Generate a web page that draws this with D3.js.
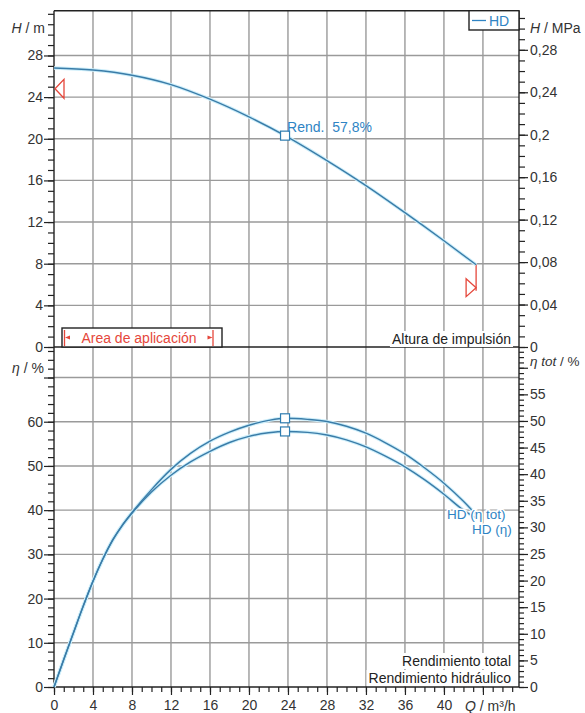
<!DOCTYPE html>
<html><head><meta charset="utf-8">
<script src="https://cdn.jsdelivr.net/npm/d3@7"></script>
<style>
html,body{margin:0;padding:0;background:#fff;}
svg{display:block;font-family:"Liberation Sans",Arial,sans-serif;}
</style></head>
<body>
<svg id="c" width="585" height="713"></svg>
<script>
// ---- data ----
const qH    = [0, 4, 8, 12, 16, 20, 23.7, 28, 32, 36, 40, 43.3];
const hVals = [26.8, 26.6, 26.1, 25.2, 23.8, 22.1, 20.3, 17.9, 15.5, 12.9, 10.2, 7.9];

const qEta   = [0, 1, 2, 3, 4, 5, 6, 7, 8, 10, 12, 14, 16, 18, 20, 22, 23.7, 26, 28, 30, 32, 34, 36, 38, 40, 42, 43.3];
const etaHyd = [0, 6.2, 12.3, 18.3, 23.9, 28.9, 33.1, 36.5, 39.3, 44.1, 47.9, 50.9, 53.3, 55.3, 56.7, 57.5, 57.8, 57.6, 57.0, 55.9, 54.3, 52.2, 49.8, 46.9, 43.6, 40.0, 38.2];
const etaTot = [0, 5.15, 10.2, 15.2, 19.9, 24.0, 27.6, 30.4, 32.8, 37.1, 40.9, 43.9, 46.2, 47.9, 49.2, 50.1, 50.5, 50.3, 49.9, 49.0, 47.7, 45.9, 43.8, 41.2, 38.3, 34.9, 32.4];

const bepQ = 23.7, bepH = 20.3, bepHyd = 57.8, bepTot = 50.5;
const minMarker = {q: 0, h: 24.8};
const maxMarker = {q: 43.3, h: 5.7};

const qTicks   = [0,4,8,12,16,20,24,28,32,36,40];
const hTicks   = [0,4,8,12,16,20,24,28];
const mpaTicks = [0,0.04,0.08,0.12,0.16,0.2,0.24,0.28];
const etaTicks = [0,10,20,30,40,50,60];
const totTicks = [0,5,10,15,20,25,30,35,40,45,50,55];

// ---- layout ----
const L = 54, R = 519, T = 10.7, MID = 347, B = 687;
const qMax = 47.7, hMax = 32.3, mpaMax = hMax * 0.00981, etaMax = 76.9, totMax = 63.9;

const x = d3.scaleLinear().domain([0, qMax]).range([L, R]);
const yH = d3.scaleLinear().domain([0, hMax]).range([MID, T]);
const yP = d3.scaleLinear().domain([0, mpaMax]).range([MID, T]);
const yE = d3.scaleLinear().domain([0, etaMax]).range([B, MID]);
const yT = d3.scaleLinear().domain([0, totMax]).range([B, MID]);

const svg = d3.select("#c");
const gridC = "#9a9a9a", axC = "#222", txtC = "#333", blue = "#3a7ca8", lblBlue = "#2f84c4", red = "#e5473b";
const FS = 14;

// grid
const g = svg.append("g");
d3.range(4, 45, 4).forEach(v => g.append("line").attr("x1", x(v)).attr("x2", x(v)).attr("y1", T).attr("y2", B).attr("stroke", gridC).attr("stroke-width", 1.4));
[4,8,12,16,20,24,28].forEach(v => g.append("line").attr("x1", L).attr("x2", R).attr("y1", yH(v)).attr("y2", yH(v)).attr("stroke", gridC).attr("stroke-width", 1.4));
[10,20,30,40,50,60,70].forEach(v => g.append("line").attr("x1", L).attr("x2", R).attr("y1", yE(v)).attr("y2", yE(v)).attr("stroke", gridC).attr("stroke-width", 1.4));

function fmtComma(v){ return String(+v.toFixed(2)).replace(".", ","); }

function styleAxis(sel){
  sel.select(".domain").remove();
  sel.selectAll("line").attr("stroke", axC).attr("stroke-width", 1.2);
  sel.selectAll("text").attr("fill", txtC).style("font-size", FS + "px").style("font-family", '"Liberation Sans",Arial,sans-serif');
}
function minor(axisFn, scale, vals, pos, size){
  const a = svg.append("g").attr("transform", pos).call(axisFn(scale).tickValues(vals).tickSize(size).tickFormat(""));
  a.select(".domain").remove();
  a.selectAll("line").attr("stroke", axC).attr("stroke-width", 1.2);
}
// left top
minor(d3.axisLeft, yH, d3.range(0, 32.01, 1), `translate(${L},0)`, 6);
styleAxis(svg.append("g").attr("transform", `translate(${L},0)`).call(d3.axisLeft(yH).tickValues(hTicks).tickSize(10).tickPadding(1).tickFormat(d3.format("d"))));
// right top
minor(d3.axisRight, yP, d3.range(0, 0.3101, 0.01), `translate(${R},0)`, 6);
styleAxis(svg.append("g").attr("transform", `translate(${R},0)`).call(d3.axisRight(yP).tickValues(mpaTicks).tickSize(9).tickPadding(2).tickFormat(fmtComma)));
// left bottom
minor(d3.axisLeft, yE, d3.range(0, 76.01, 2), `translate(${L},0)`, 6);
styleAxis(svg.append("g").attr("transform", `translate(${L},0)`).call(d3.axisLeft(yE).tickValues(etaTicks.concat([70])).tickSize(10).tickPadding(1).tickFormat(d => d === 70 ? "" : d)));
// right bottom
minor(d3.axisRight, yT, d3.range(0, 63.01, 1), `translate(${R},0)`, 5);
styleAxis(svg.append("g").attr("transform", `translate(${R},0)`).call(d3.axisRight(yT).tickValues(totTicks.concat([60])).tickSize(9).tickPadding(2).tickFormat(d => d === 60 ? "" : d)));
// bottom
minor(d3.axisBottom, x, d3.range(0, 47.01, 1), `translate(0,${B})`, 5);
styleAxis(svg.append("g").attr("transform", `translate(0,${B})`).call(d3.axisBottom(x).tickValues(qTicks.concat([44])).tickSize(8).tickPadding(5).tickFormat(d => d === 44 ? "" : d)));

// frame lines
const fr = svg.append("g").attr("stroke", axC).attr("stroke-width", 1.4);
fr.append("line").attr("x1", L).attr("x2", R).attr("y1", T).attr("y2", T);
fr.append("line").attr("x1", L).attr("x2", R).attr("y1", MID).attr("y2", MID);
fr.append("line").attr("x1", L).attr("x2", R).attr("y1", B).attr("y2", B);
fr.append("line").attr("x1", L).attr("x2", L).attr("y1", T).attr("y2", B);
fr.append("line").attr("x1", R).attr("x2", R).attr("y1", T).attr("y2", B);

// axis titles
function title(xp, yp, anchor, parts, fs){
  const t = svg.append("text").attr("x", xp).attr("y", yp).attr("text-anchor", anchor).attr("fill", txtC).style("font-size", (fs || FS) + "px");
  parts.forEach(p => t.append("tspan").style("font-style", p[1] ? "italic" : "normal").text(p[0]));
}
title(45, 33, "end", [["H", true], [" / m", false]]);
title(530, 33, "start", [["H", true], [" / MPa", false]]);
title(44, 373, "end", [["η", true], [" / %", false]]);
title(530, 366, "start", [["η tot", true], [" / %", false]], 13.5);
title(465, 711, "start", [["Q", true], [" / m³/h", false]]);

// white-background annotations
function boxedText(xr, yb, str, color){
  const t = svg.append("text").attr("x", xr).attr("y", yb).attr("text-anchor", "end").attr("fill", color).style("font-size", FS + "px").text(str);
  const bb = t.node().getBBox();
  svg.insert("rect", () => t.node()).attr("x", bb.x - 2).attr("y", bb.y).attr("width", bb.width + 4).attr("height", bb.height).attr("fill", "#fff");
  return t;
}
boxedText(511, 344, "Altura de impulsión", "#222");
boxedText(511, 666, "Rendimiento total", "#222");
boxedText(511, 683, "Rendimiento hidráulico", "#222");

// Application area box
const ab = svg.append("g");
ab.append("rect").attr("x", 62).attr("y", 328).attr("width", 160).attr("height", MID - 328).attr("fill", "#fff").attr("stroke", axC).attr("stroke-width", 1.4);
ab.append("line").attr("x1", 64.5).attr("x2", 64.5).attr("y1", 330).attr("y2", 346).attr("stroke", red).attr("stroke-width", 1.3);
ab.append("line").attr("x1", 213).attr("x2", 213).attr("y1", 330).attr("y2", 346).attr("stroke", red).attr("stroke-width", 1.3);
ab.append("path").attr("d", "M65,337.5 L70,335.5 L70,339.5 Z").attr("fill", red);
ab.append("path").attr("d", "M212.5,337.5 L207.5,335.5 L207.5,339.5 Z").attr("fill", red);
ab.append("text").attr("x", 139).attr("y", 343).attr("text-anchor", "middle").attr("fill", red).style("font-size", FS + "px").text("Area de aplicación");

// legend box
const lg = svg.append("g");
lg.append("rect").attr("x", 469).attr("y", T).attr("width", R - 469).attr("height", 30 - T).attr("fill", "#fff").attr("stroke", axC).attr("stroke-width", 1.4);
lg.append("line").attr("x1", 472).attr("x2", 486).attr("y1", 20.5).attr("y2", 20.5).attr("stroke", lblBlue).attr("stroke-width", 1.3);
lg.append("text").attr("x", 489).attr("y", 26).attr("fill", lblBlue).style("font-size", FS + "px").text("HD");

// curves
const lineH = d3.line().x(d => x(d[0])).y(d => yH(d[1])).curve(d3.curveMonotoneX);
const lineE = d3.line().x(d => x(d[0])).y(d => yE(d[1])).curve(d3.curveMonotoneX);
const lineT = d3.line().x(d => x(d[0])).y(d => yT(d[1])).curve(d3.curveMonotoneX);
const hData = qH.map((q, i) => [q, hVals[i]]);
const eData = qEta.map((q, i) => [q, etaHyd[i]]);
const tData = qEta.map((q, i) => [q, etaTot[i]]);

// red operating markers
svg.append("line").attr("x1", x(maxMarker.q)).attr("x2", x(maxMarker.q)).attr("y1", yH(hVals[hVals.length-1])).attr("y2", yH(maxMarker.h) + 3).attr("stroke", red).attr("stroke-width", 1.3);
svg.append("path").attr("d", `M${x(maxMarker.q)},${yH(maxMarker.h)} L${x(maxMarker.q)-10},${yH(maxMarker.h)-9} L${x(maxMarker.q)-10},${yH(maxMarker.h)+9} Z`).attr("fill", "none").attr("stroke", red).attr("stroke-width", 1.3);
svg.append("path").attr("d", `M${x(minMarker.q)+1},${yH(minMarker.h)} L${x(minMarker.q)+10},${yH(minMarker.h)-9.5} L${x(minMarker.q)+10},${yH(minMarker.h)+9.5} Z`).attr("fill", "none").attr("stroke", red).attr("stroke-width", 1.3);

[[hData, lineH], [eData, lineE], [tData, lineT]].forEach(([d, ln]) => {
  svg.append("path").attr("d", ln(d)).attr("fill", "none").attr("stroke", "#cdeefa").attr("stroke-width", 3.5);
});
[[hData, lineH], [eData, lineE], [tData, lineT]].forEach(([d, ln]) => {
  svg.append("path").attr("d", ln(d)).attr("fill", "none").attr("stroke", blue).attr("stroke-width", 1.4);
});

// BEP squares
function sq(cx, cy){
  svg.append("rect").attr("x", cx - 4.5).attr("y", cy - 4.5).attr("width", 9).attr("height", 9).attr("fill", "#fff").attr("stroke", "#2f7cb0").attr("stroke-width", 1.2);
}
sq(x(bepQ), yH(bepH));
sq(x(bepQ), yT(bepTot));
sq(x(bepQ), yE(bepHyd));

// curve labels
svg.append("text").attr("x", x(bepQ) + 2).attr("y", yH(bepH) - 4).attr("fill", lblBlue).style("font-size", FS + "px").style("white-space", "pre").text("Rend.  57,8%");
function haloText(xp, yp, str){
  svg.append("text").attr("x", xp).attr("y", yp).attr("fill", lblBlue).attr("stroke", "#fff").attr("stroke-width", 3).attr("paint-order", "stroke").style("font-size", "13.5px").text(str);
}
haloText(447, 519, "HD (η tot)");
haloText(472, 534, "HD (η)");
</script>
</body></html>
